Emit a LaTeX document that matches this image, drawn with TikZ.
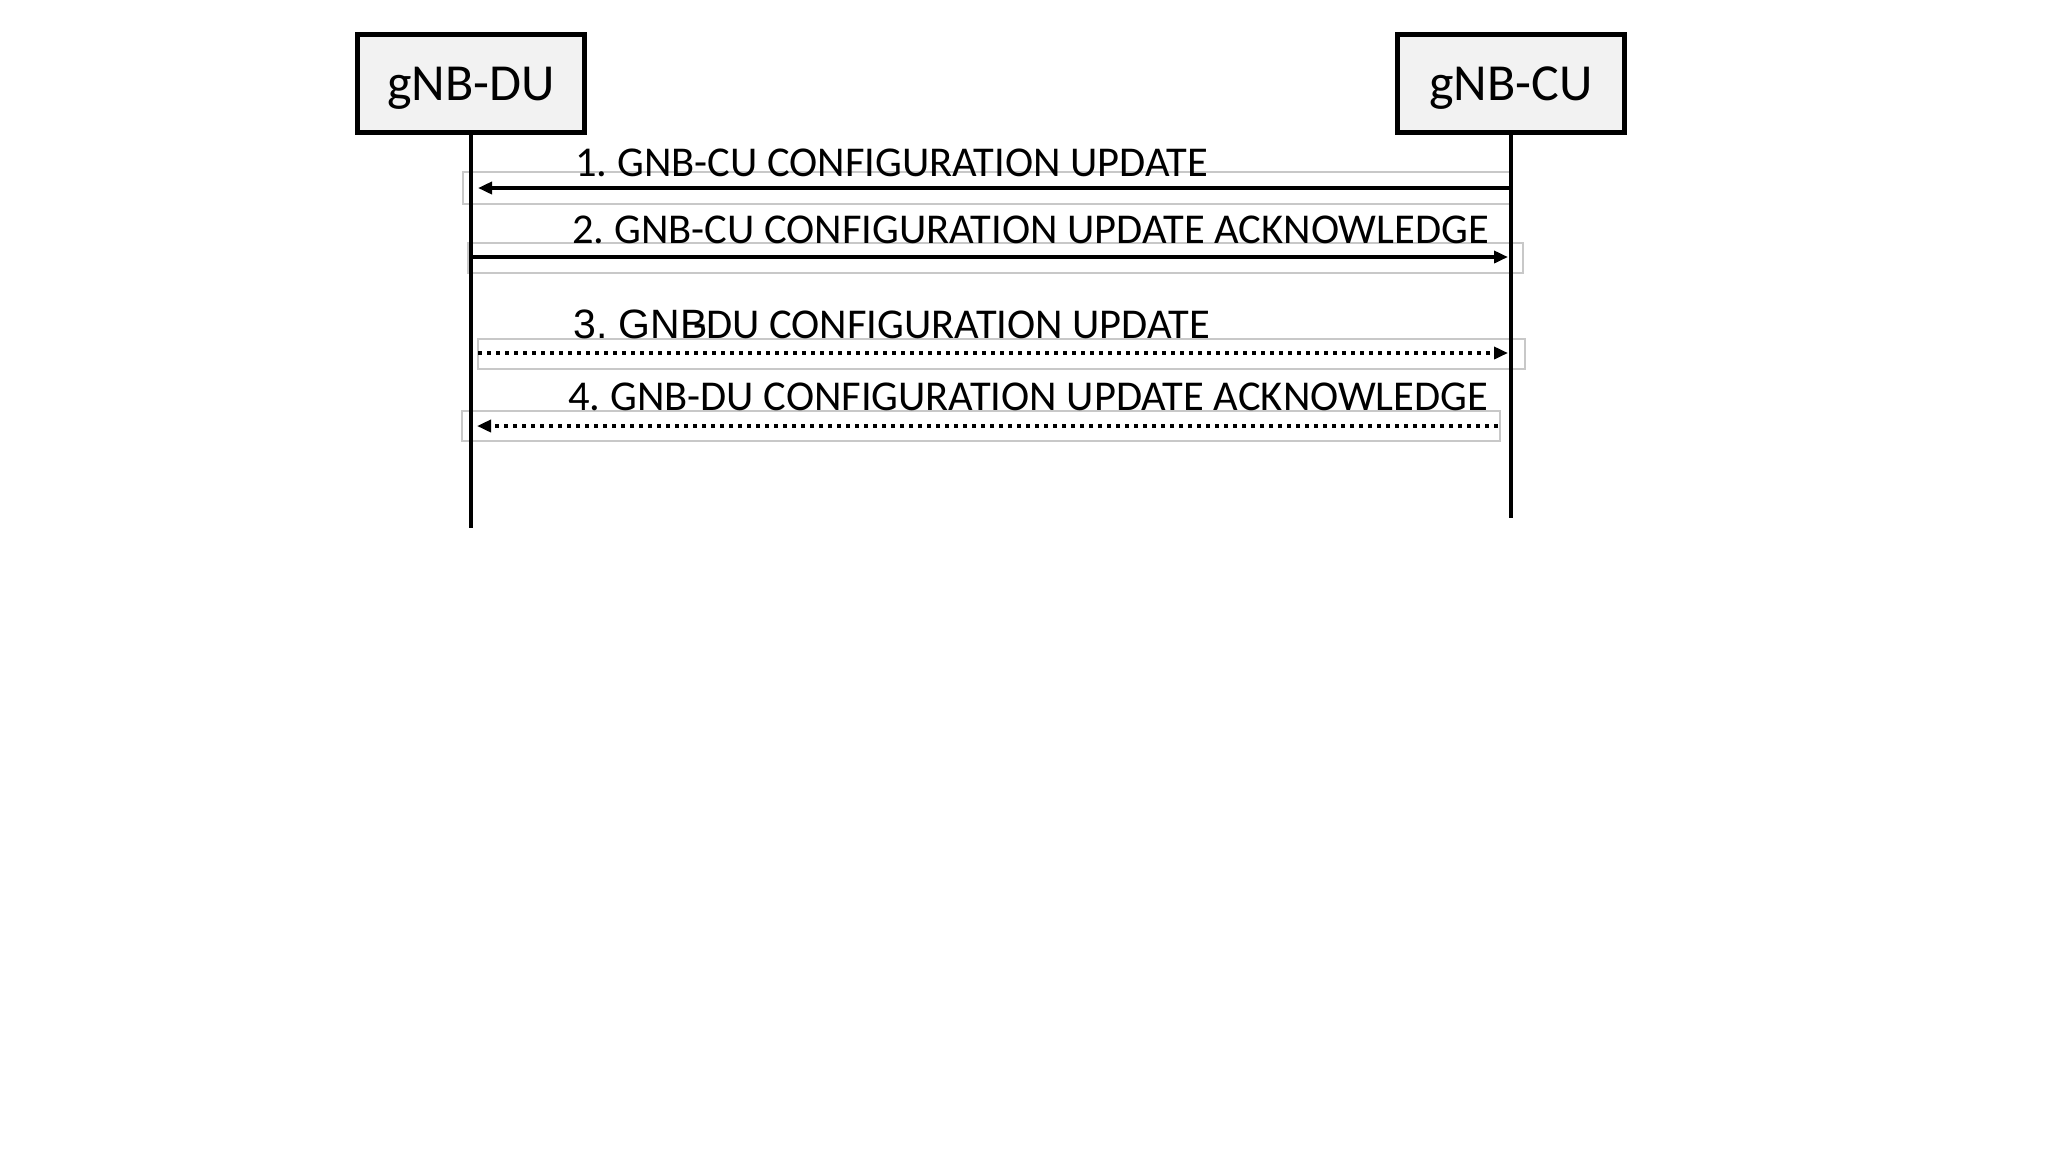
\documentclass[tikz,border=0pt]{standalone}
\usepackage{fontspec}
\setmainfont{Carlito}
\newfontfamily\arialfont{Liberation Sans}
\usetikzlibrary{arrows.meta}
\definecolor{boxfill}{HTML}{F2F2F2}
\definecolor{framegray}{HTML}{C8C8C8}
\frenchspacing
\begin{document}
\begin{tikzpicture}[x=0.5pt,y=-0.5pt,
  actor/.style={draw=black, line width=2.5pt, fill=boxfill, minimum width=113.5pt, minimum height=49pt, inner sep=0pt, font=\fontsize{26}{30}\selectfont, text height=16.5pt, text depth=0pt},
  life/.style={line width=2pt},
  msg/.style={line width=2pt, -{Triangle[length=7pt,width=6pt]}},
  dots/.style={dash pattern=on 2pt off 2.5pt},
  frame/.style={draw=framegray, line width=0.6pt},
  lbl/.style={inner sep=0pt, font=\fontsize{21.25}{25}\selectfont},
  lblarial/.style={inner sep=0pt, font={\arialfont\fontsize{20.5}{25}\selectfont}}
]
\useasboundingbox (0,0) rectangle (2048,1153);
% actors
\node[actor] (du) at (471,83.5) {gNB-DU};
\node[actor] (cu) at (1511,83.5) {gNB-CU};
\coordinate (duend) at (471,528);
\coordinate (cuend) at (1511,518);
% text frames
\draw[frame] (463,172) rectangle (1510,204);
\draw[frame] (468,243) rectangle (1523,273);
\draw[frame] (478,339) rectangle (1525,369);
\draw[frame] (462,411) rectangle (1500,441);
% lifelines
\draw[life] (du.south) -- (duend);
\draw[life] (cu.south) -- (cuend);
% message end points
\coordinate (m1a) at (1511,188); \coordinate (m1b) at (478,188);
\coordinate (m2a) at (471,257);  \coordinate (m2b) at (1508,257);
\coordinate (m3a) at (478,353);  \coordinate (m3b) at (1508,353);
\coordinate (m4a) at (1498,426); \coordinate (m4b) at (477,426);
% messages
\draw[msg] (m1a) -- (m1b);
\draw[msg] (m2a) -- (m2b);
\draw[msg,dots] (m3a) -- (m3b);
\draw[msg,dots] (m4a) -- (m4b);
% labels
\node[lbl, anchor=base west] (t1) at (575,176) {1. GNB-CU CONFIGURATION UPDATE};
\node[lbl, anchor=base west] (t2) at (572,243) {2. GNB-CU CONFIGURATION UPDATE ACKNOWLEDGE};
\node[lbl, anchor=base west] (t3c) at (693,338) {-DU CONFIGURATION UPDATE};
\node[lblarial, anchor=base west] (t3a) at (573,338) {3. GNB};
\node[lbl, anchor=base west] (t4) at (568,410) {4. GNB-DU CONFIGURATION UPDATE ACKNOWLEDGE};
\end{tikzpicture}
\end{document}
